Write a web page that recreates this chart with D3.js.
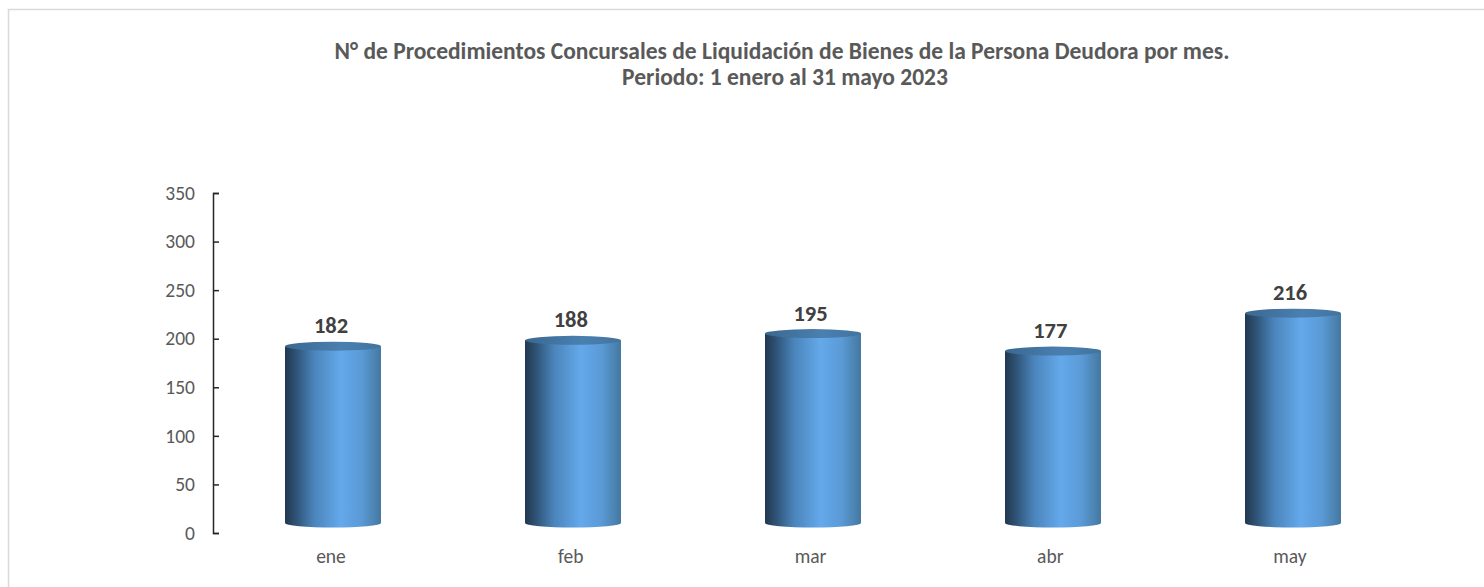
<!DOCTYPE html>
<html>
<head>
<meta charset="utf-8">
<script src="https://cdnjs.cloudflare.com/ajax/libs/d3/7.8.5/d3.min.js"></script>
<style>
body { margin: 0; background: #fff; }
text { font-family: Carlito, "Open Sans", "Noto Sans", sans-serif; }
</style>
</head>
<body>
<div id="chart"></div>
<script>
var months = ["ene", "feb", "mar", "abr", "may"];
var counts = [182, 188, 195, 177, 216];
var yTicks = [0, 50, 100, 150, 200, 250, 300, 350];
var titleLines = [
    "N\u00b0 de Procedimientos Concursales de Liquidaci\u00f3n de Bienes de la Persona Deudora por mes.",
    "Periodo: 1 enero al 31 mayo 2023"
];

var w = 1484, h = 587;
var depth = 10, ry = 4.5;   // the fake 3d floor sits above the axis zero

var svg = d3.select("#chart").append("svg")
    .attr("width", w)
    .attr("height", h)
    .style("display", "block");

var defs = svg.append("defs");
var grad = defs.append("linearGradient").attr("id", "cyl");
[[0, "#22384f"], [0.12, "#2f5478"], [0.3, "#4a84bb"], [0.58, "#64a9ea"], [0.8, "#5a9ad6"], [1, "#44789f"]].forEach(function(s){
    grad.append("stop").attr("offset", s[0]).attr("stop-color", s[1]);
});
var lid = defs.append("linearGradient").attr("id", "lid");
[[0, "#3a6891"], [0.6, "#4a80b0"], [1, "#42739f"]].forEach(function(s){
    lid.append("stop").attr("offset", s[0]).attr("stop-color", s[1]);
});

// outer frame, only left and top show in the crop
svg.append("path")
    .attr("d", "M8.5," + h + "V9.5H" + w)
    .attr("fill", "none")
    .attr("stroke", "#d9d9d9")
    .attr("stroke-width", 1.5);

var x = d3.scaleBand().domain(months).range([213, 1413]).paddingInner(0.6).paddingOuter(0.3);
var y = d3.scaleLinear().domain([0, 350]).range([533, 193]);
// month and value labels drift a little left of the bars
var xLabel = d3.scalePoint().domain(months).range([331, 1290]);

svg.append("g").selectAll("text").data(titleLines).enter().append("text")
    .attr("x", function(d, i){ return 782 + i * 3; })
    .attr("y", function(d, i){ return 59 + i * 26; })
    .attr("text-anchor", "middle")
    .attr("font-size", 23.5)
    .attr("font-weight", "bold")
    .attr("fill", "#595959")
    .text(function(d){ return d; });

// y axis, ticks point inward
var yAxis = svg.append("g")
    .attr("transform", "translate(213,0)")
    .call(d3.axisLeft(y).tickValues(yTicks).tickSize(-6).tickPadding(18));
yAxis.selectAll("path, line").attr("stroke", "#262626").attr("stroke-width", 1.5);
yAxis.selectAll("text").attr("font-size", 19.5).attr("fill", "#595959");
yAxis.attr("font-family", null);

var bars = svg.append("g").selectAll("g").data(months).enter().append("g");

bars.append("path")
    .attr("fill", "url(#cyl)")
    .attr("d", function(d, i){
        var x0 = x(d), bw = x.bandwidth(), top = y(counts[i]) - depth, base = y(0) - depth;
        return "M" + x0 + "," + top + "V" + base + "A" + bw / 2 + "," + ry + " 0 0 0 " + (x0 + bw) + "," + base + "V" + top + "Z";
    });

bars.append("ellipse")
    .attr("cx", function(d){ return x(d) + x.bandwidth() / 2; })
    .attr("cy", function(d, i){ return y(counts[i]) - depth; })
    .attr("rx", x.bandwidth() / 2)
    .attr("ry", ry)
    .attr("fill", "url(#lid)");

bars.append("text")
    .attr("x", function(d){ return xLabel(d); })
    .attr("y", function(d, i){ return y(counts[i]) - depth - 13; })
    .attr("text-anchor", "middle")
    .attr("font-size", 22.5)
    .attr("font-weight", "bold")
    .attr("fill", "#404040")
    .text(function(d, i){ return counts[i]; });

svg.append("g").selectAll("text").data(months).enter().append("text")
    .attr("x", function(d){ return xLabel(d); })
    .attr("y", 563)
    .attr("text-anchor", "middle")
    .attr("font-size", 19.5)
    .attr("fill", "#595959")
    .text(function(d){ return d; });
</script>
</body>
</html>
